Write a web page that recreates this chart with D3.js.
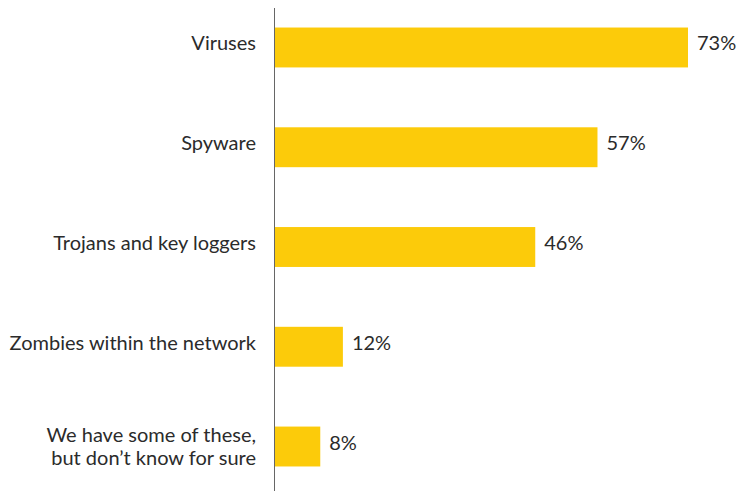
<!DOCTYPE html>
<html>
<head>
<meta charset="utf-8">
<script src="https://cdn.jsdelivr.net/npm/d3@7"></script>
<style>
  html, body { margin: 0; padding: 0; background: #fff; }
  svg { display: block; }
  text { font-family: Lato, "Open Sans", sans-serif; fill: #2b2b2b; }
</style>
</head>
<body>
<svg id="chart" width="739" height="493"></svg>
<script>
// Share of respondents reporting each type of threat
const categories = [
  ["Viruses"],
  ["Spyware"],
  ["Trojans and key loggers"],
  ["Zombies within the network"],
  ["We have some of these,", "but don\u2019t know for sure"]
];
const values = [73, 57, 46, 12, 8];

const svg = d3.select("#chart");
const axisX = 274.5;
const fontSize = 20;

const x = d3.scaleLinear().domain([0, 73]).range([axisX + 0.5, 688]);
const y = d3.scaleBand()
  .domain(d3.range(categories.length))
  .range([-2.4, 496.4])
  .paddingInner(0.6)
  .paddingOuter(0.3);
const mid = i => y(i) + y.bandwidth() / 2;

// bars
svg.selectAll("rect.bar")
  .data(values)
  .join("rect")
  .attr("class", "bar")
  .attr("x", x(0))
  .attr("y", (d, i) => y(i))
  .attr("width", d => x(d) - x(0))
  .attr("height", y.bandwidth())
  .attr("fill", "#FCCB0A");

// value labels
svg.selectAll("text.val")
  .data(values)
  .join("text")
  .attr("class", "val")
  .attr("x", d => x(d) + 9)
  .attr("y", (d, i) => mid(i) + 3)
  .attr("font-size", fontSize)
  .text(d => d + "%");

// category labels
const lineH = 23;
const lab = svg.selectAll("text.cat")
  .data(categories)
  .join("text")
  .attr("class", "cat")
  .attr("text-anchor", "end")
  .attr("font-size", fontSize)
  .attr("y", (d, i) => mid(i) + 3 - (d.length - 1) * 7.5);
lab.selectAll("tspan")
  .data(d => d)
  .join("tspan")
  .attr("x", 256)
  .attr("dy", (d, j) => j === 0 ? 0 : lineH)
  .text(d => d);

// vertical baseline
svg.append("line")
  .attr("x1", axisX).attr("x2", axisX)
  .attr("y1", 8).attr("y2", 491)
  .attr("stroke", "#666")
  .attr("stroke-width", 1);
</script>
</body>
</html>
